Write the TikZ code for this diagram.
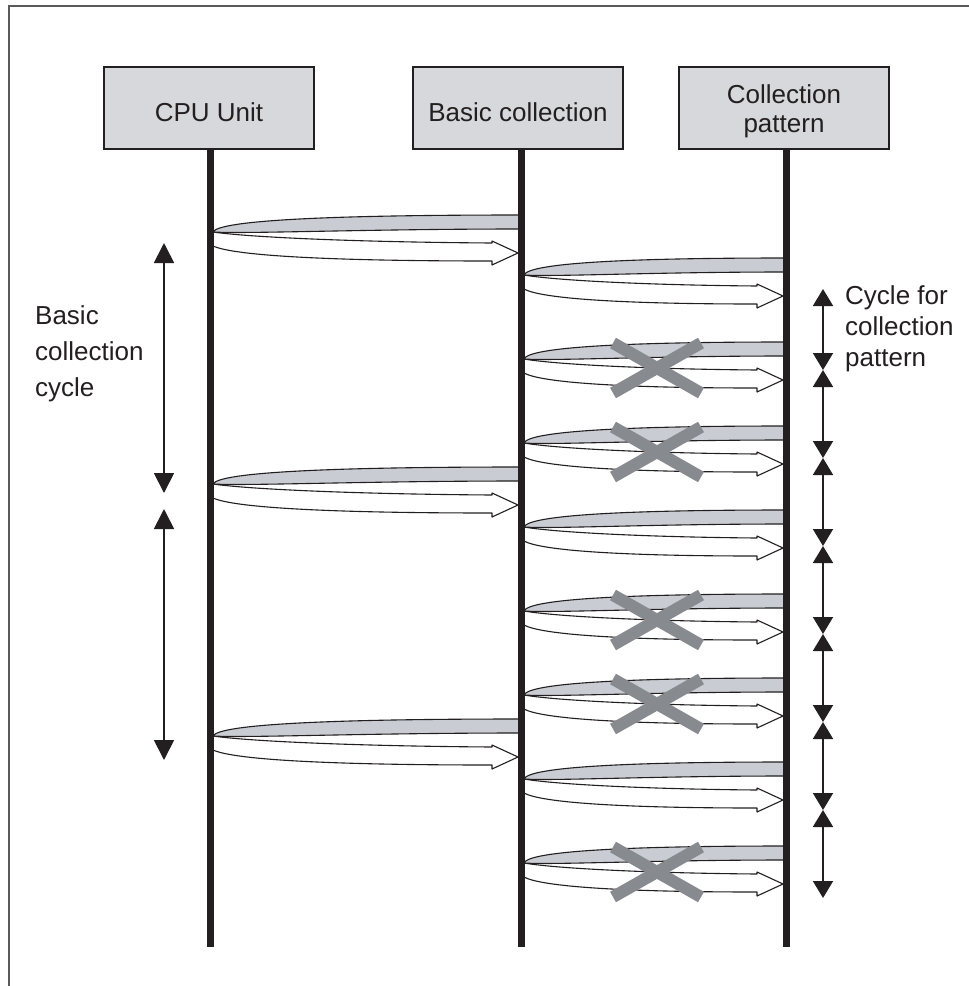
\documentclass[tikz,border=0pt]{standalone}
\usepackage{fontspec}
\setmainfont{Liberation Sans}
\usetikzlibrary{arrows.meta}
\definecolor{boxfill}{HTML}{D6D8DB}
\definecolor{bandfill}{HTML}{C9CCD2}
\definecolor{crossgray}{HTML}{878B90}
\definecolor{lineblack}{HTML}{231F20}
\definecolor{framegray}{HTML}{5A5A5A}
\tikzset{
  actorbox/.style={draw=lineblack, line width=1.3pt, fill=boxfill, minimum width=210pt, minimum height=82pt, inner sep=0pt, align=center, font=\fontsize{26}{29}\selectfont, text=lineblack},
  lifeline/.style={draw=lineblack, line width=7pt},
  ribbon/.style={draw=lineblack, line width=1.1pt, line join=round},
  crossbar/.style={draw=crossgray, line width=12pt},
  cyclearrow/.style={draw=lineblack, line width=1.8pt, {Triangle[width=20pt,length=20pt]}-{Triangle[width=20pt,length=20pt]}},
  patarrow/.style={draw=lineblack, line width=1.8pt, {Triangle[width=20pt,length=17pt]}-{Triangle[width=20pt,length=17pt]}},
  label/.style={align=left, font=\fontsize{26}{31}\selectfont, text=lineblack, inner sep=0pt}
}
% #1 = left lifeline x, #2 = right lifeline x, #3 = top of grey band
\newcommand{\myloop}[3]{%
  \pgfmathsetmacro{\dd}{#2-#1}%
  \filldraw[ribbon, fill=white]
    ({#1+3},{#3+17}) -- ({#1+3},{#3+31})
    .. controls ({#1+0.08*\dd},{#3+41}) and ({#1+0.4*\dd},{#3+46}) .. ({#2-29},{#3+46})
    -- ({#2-29},{#3+50}) -- ({#2-3},{#3+38}) -- ({#2-29},{#3+26}) -- ({#2-29},{#3+28})
    .. controls ({#1+0.45*\dd},{#3+27}) and ({#1+0.12*\dd},{#3+22}) .. ({#1+3},{#3+17}) -- cycle;
  \filldraw[ribbon, fill=bandfill]
    (#2,#3) .. controls ({#1+0.4*\dd},{#3}) and ({#1+0.03*\dd},{#3+5}) .. ({#1+3},{#3+17})
    .. controls ({#1+0.12*\dd},{#3+19}) and ({#1+0.5*\dd},{#3+14}) .. (#2,{#3+14}) -- cycle;
}
\newcommand{\mycross}[1]{%
  \draw[crossbar] (613,{#1-25}) -- (701,{#1+25});
  \draw[crossbar] (701,{#1-25}) -- (613,{#1+25});
}
\newcommand{\dropdown}[1]{\raisebox{-4pt}[\height][\depth]{#1}}
\begin{document}
\begin{tikzpicture}[x=1pt,y=-1pt]
\useasboundingbox (0,0) rectangle (969,986);
\fill[white] (0,0) rectangle (969,986);
% frame
\draw[framegray, line width=1.5pt] (9,986) -- (9,6) -- (969,6);

% actors
\node[actorbox] (cpu) at (209,108) {\dropdown{CPU Unit}};
\node[actorbox] (basic) at (518,108) {\dropdown{Basic collection}};
\node[actorbox] (pat) at (784,108) {\dropdown{\begin{tabular}{@{}c@{}}Collection\\pattern\end{tabular}}};

\coordinate (cpuend) at (210,947);
\coordinate (basicend) at (521,947);
\coordinate (patend) at (786,947);

% loops CPU -> basic
\myloop{210}{521}{215}
\myloop{210}{521}{467}
\myloop{210}{521}{719}
% loops basic -> pattern
\foreach \k in {0,...,7}{
  \pgfmathsetmacro{\yy}{258+84*\k}
  \myloop{521}{786}{\yy}
}
% crosses
\foreach \k in {1,2,4,5,7}{
  \pgfmathsetmacro{\cy}{258+84*\k+26}
  \mycross{\cy}
}

% lifelines
\draw[lifeline] (cpu.south -| cpuend) -- (cpuend);
\draw[lifeline] (basic.south -| basicend) -- (basicend);
\draw[lifeline] (pat.south -| patend) -- (patend);

% basic collection cycle arrows
\coordinate (l1a) at (164,243);
\coordinate (l1b) at (164,493);
\coordinate (l2a) at (164,509);
\coordinate (l2b) at (164,760);
\draw[cyclearrow] (l1a) -- (l1b);
\draw[cyclearrow] (l2a) -- (l2b);

% pattern cycle arrows
\foreach \a/\b in {289/370, 370/458, 458/546, 546/634, 634/722, 722/810, 810/898}{
  \coordinate (pa) at (823,\a);
  \coordinate (pb) at (823,\b);
  \draw[patarrow] (pa) -- (pb);
}

% labels
\node[label, anchor=north west] (lbl1) at (35,305) {Basic\\[5pt]collection\\[5pt]cycle};
\node[label, anchor=north west] (lbl2) at (845,285) {Cycle for\\collection\\pattern};
\end{tikzpicture}
\end{document}
